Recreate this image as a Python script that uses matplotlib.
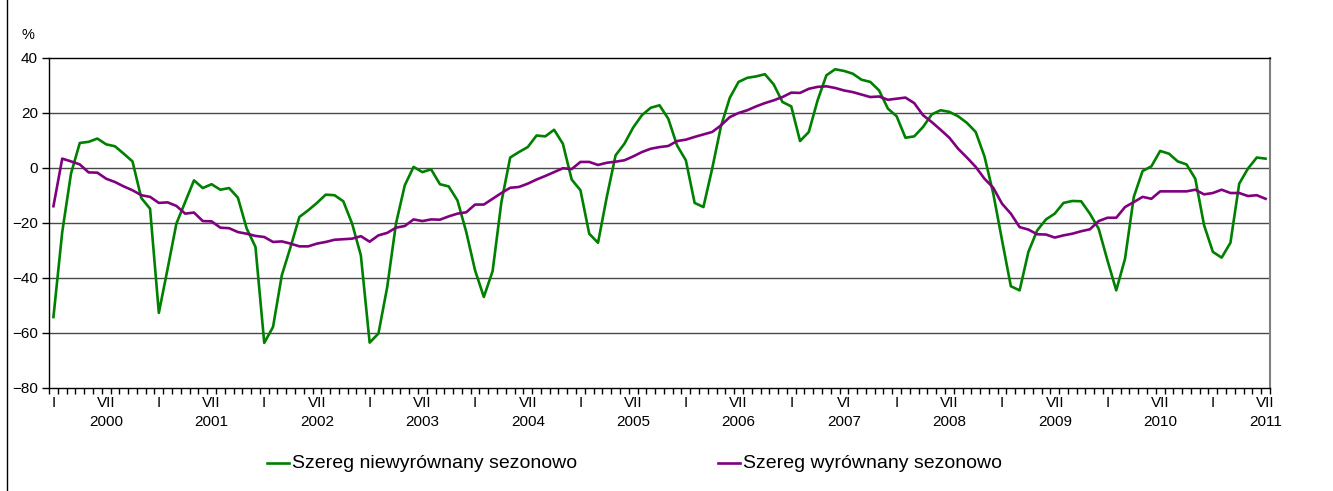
import numpy as np
import matplotlib
matplotlib.use('Agg')
import matplotlib.pyplot as plt
from matplotlib.lines import Line2D

plt.rcParams['font.family'] = ['Liberation Sans', 'DejaVu Sans']

# monthly values, I 2000 .. VII 2011 (139 months)
unadjusted = [
    -54.2, -23.3, -2.0, 9.1, 9.5, 10.7, 8.6, 7.9, 5.2, 2.4, -10.9, -14.8,
    -52.7, -36.6, -20.2, -12.4, -4.5, -7.3, -5.9, -7.9, -7.3, -10.8, -22.0, -28.7,
    -63.6, -57.8, -39.0, -28.7, -17.8, -15.4, -12.7, -9.7, -9.9, -12.1, -20.2, -31.8,
    -63.5, -60.2, -43.3, -20.2, -6.3, 0.4, -1.5, -0.5, -5.9, -6.7, -11.8, -23.3,
    -37.2, -46.9, -37.5, -12.4, 3.8, 5.8, 7.6, 11.8, 11.5, 13.9, 8.8, -4.2,
    -8.1, -23.9, -27.2, -10.5, 4.6, 8.8, 14.7, 19.2, 21.9, 22.8, 17.9, 8.2,
    2.8, -12.7, -14.2, -0.2, 15.2, 25.5, 31.3, 32.8, 33.3, 34.1, 30.4, 24.0,
    22.4, 9.8, 13.1, 24.6, 33.7, 35.9, 35.3, 34.3, 32.1, 31.3, 28.2, 21.6,
    18.8, 11.0, 11.5, 14.9, 19.5, 21.0, 20.4, 18.8, 16.4, 13.1, 4.2, -9.3,
    -26.3, -43.0, -44.5, -30.5, -22.7, -18.7, -16.6, -12.7, -12.0, -12.1, -16.6, -22.1,
    -33.6, -44.5, -33.0, -10.5, -1.1, 0.6, 6.2, 5.2, 2.4, 1.3, -3.9, -20.8,
    -30.5, -32.6, -27.2, -5.7, -0.2, 3.8, 3.4,
]
adjusted = [
    -13.9, 3.4, 2.4, 1.3, -1.6, -1.7, -3.9, -5.1, -6.7, -8.1, -9.9, -10.5,
    -12.7, -12.5, -13.8, -16.6, -16.2, -19.3, -19.4, -21.7, -21.9, -23.3, -23.9, -24.7,
    -25.1, -26.9, -26.7, -27.5, -28.5, -28.5, -27.5, -26.9, -26.1, -25.9, -25.7, -24.8,
    -26.8, -24.5, -23.6, -21.7, -21.1, -18.7, -19.3, -18.7, -18.8, -17.6, -16.6, -16.1,
    -13.3, -13.3, -11.2, -9.1, -7.2, -6.9, -5.7, -4.2, -2.9, -1.5, -0.1, -0.4,
    2.2, 2.2, 1.1, 1.9, 2.3, 2.8, 4.2, 5.8, 7.0, 7.6, 8.0, 9.8,
    10.3, 11.3, 12.2, 13.1, 15.5, 18.5, 20.0, 21.0, 22.4, 23.6, 24.6, 25.8,
    27.4, 27.3, 28.8, 29.5, 29.7, 29.1, 28.2, 27.6, 26.7, 25.8, 26.0, 24.8,
    25.2, 25.6, 23.6, 19.2, 16.7, 13.9, 11.0, 7.0, 3.8, 0.4, -3.9, -7.2,
    -13.0, -16.6, -21.5, -22.4, -24.1, -24.2, -25.3, -24.5, -23.9, -23.0, -22.3, -19.3,
    -18.1, -18.1, -14.2, -12.4, -10.5, -11.2, -8.5, -8.5, -8.5, -8.5, -7.9, -9.6,
    -9.1, -7.9, -9.1, -9.1, -10.2, -9.9, -11.2,
]

years = [str(y) for y in range(2000, 2012)]
month_labels = ['I', 'VII'] * 11 + ['I', 'VII']
month_labels[15] = 'VI'  # 2007 is labelled "VI" in the original
series_names = ['Szereg niewyrównany sezonowo', 'Szereg wyrównany sezonowo']

x = np.arange(len(unadjusted))

fig = plt.figure(figsize=(13.33, 4.91), dpi=100)
ax = fig.add_axes([0.0368, 0.2098, 0.9159, 0.6721])

for yv in range(-60, 40, 20):
    ax.axhline(yv, color='#4a4a4a', lw=1.0, zorder=1)

ax.plot(x, unadjusted, color='#008000', lw=1.9, zorder=3)
ax.plot(x, adjusted, color='#800080', lw=1.9, zorder=3)

ax.set_xlim(-0.5, len(x) - 0.5)
ax.set_ylim(-80, 40)
ax.set_yticks(range(-80, 41, 20))
ax.tick_params(axis='y', labelsize=11, length=5, width=1, pad=3)

# label positions: I and VII of each year, year name under VII
label_pos = []
label_txt = []
for k, yr in enumerate(years):
    label_pos.append(12 * k)
    label_txt.append(month_labels[2 * k] + '\n')
    label_pos.append(12 * k + 6)
    label_txt.append(month_labels[2 * k + 1] + '\n' + yr)
label_pos = [p for p in label_pos if p < len(x)]
label_txt = label_txt[:len(label_pos)]
ax.set_xticks(label_pos)
ax.set_xticklabels(label_txt, fontsize=11, linespacing=1.42, va='top')
ax.tick_params(axis='x', which='major', length=0, pad=6)
ax.set_xticks(np.arange(-0.5, len(x), 1), minor=True)
ax.tick_params(axis='x', which='minor', length=4, width=1, direction='out')

for s in ['left', 'bottom', 'top']:
    ax.spines[s].set_color('black')
    ax.spines[s].set_linewidth(1.0)
ax.spines['right'].set_color('#808080')
ax.spines['right'].set_linewidth(1.5)

fig.text(0.0165, 0.929, '%', fontsize=10.5, ha='left', va='center')

# legend drawn by hand to keep the wide spacing of the original
leg_y = 1 - 463 / 491
fig.add_artist(Line2D([267 / 1333, 289 / 1333], [leg_y, leg_y], color='#008000', lw=1.9))
fig.text(292 / 1333, leg_y, series_names[0], fontsize=14, va='center')
fig.add_artist(Line2D([718 / 1333, 740 / 1333], [leg_y, leg_y], color='#800080', lw=1.9))
fig.text(743 / 1333, leg_y, series_names[1], fontsize=14, va='center')

# outer frame line on the left
fig.add_artist(Line2D([7.5 / 1333, 7.5 / 1333], [0, 1], color='black', lw=1.0))

fig.savefig('out.png', dpi=100)
